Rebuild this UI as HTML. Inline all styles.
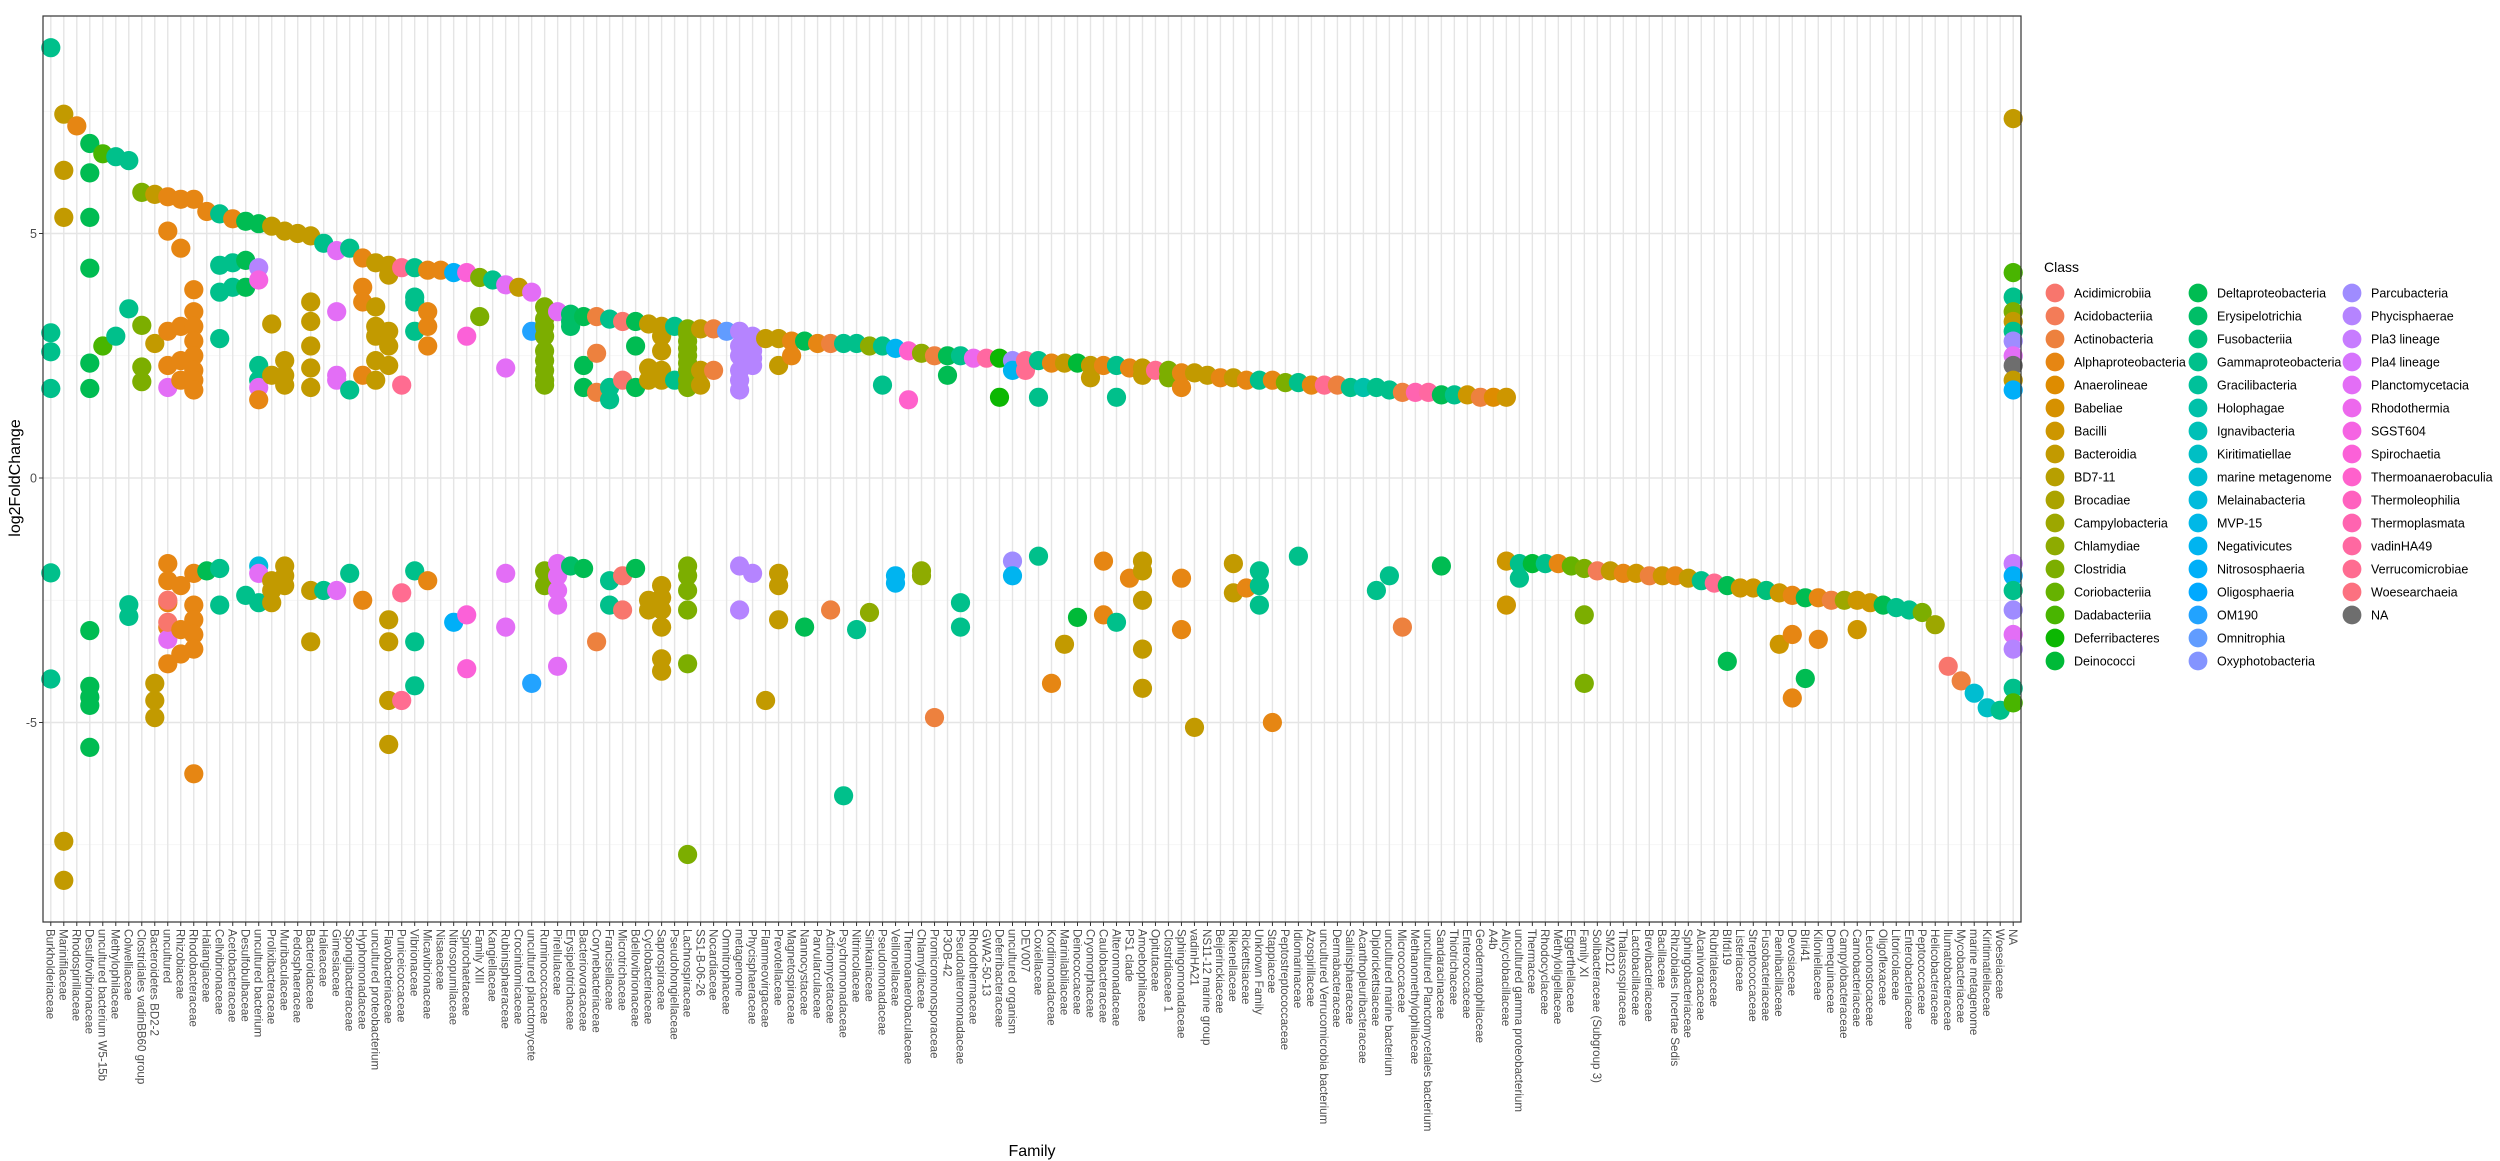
<!DOCTYPE html>
<html><head><meta charset="utf-8">
<style>
html,body{margin:0;padding:0;background:#fff;}
svg{display:block;font-family:"Liberation Sans",Arial,sans-serif;}
</style></head>
<body>
<svg id="chart" width="2500" height="1161" viewBox="0 0 2500 1161" xmlns="http://www.w3.org/2000/svg">
<rect width="2500" height="1161" fill="#fff"/>
<g id="grid"></g>
<g id="points"></g>
<rect x="43" y="16" width="1978" height="906" fill="none" stroke="#333" stroke-width="1.2"/>
<g id="yaxis"></g>
<g id="xaxis"></g>
<text transform="translate(20,478) rotate(-90)" text-anchor="middle" font-size="16" fill="#000">log2FoldChange</text>
<text x="1032" y="1156" text-anchor="middle" font-size="16" fill="#000">Family</text>
<g id="legend"></g>
</svg>
<script>
const families = ["Burkholderiaceae","Marinifilaceae","Rhodospirillaceae","Desulfovibrionaceae","uncultured bacterium W5-15b","Methylophilaceae","Colwelliaceae","Clostridiales vadinBB60 group","Bacteroidetes BD2-2","uncultured","Rhizobiaceae","Rhodobacteraceae","Haliangiaceae","Cellvibrionaceae","Acetobacteraceae","Desulfobulbaceae","uncultured bacterium","Prolixibacteraceae","Muribaculaceae","Pedosphaeraceae","Bacteroidaceae","Halieaceae","Gimesiaceae","Spongiibacteraceae","Hyphomonadaceae","uncultured proteobacterium","Flavobacteriaceae","Puniceicoccaceae","Vibrionaceae","Micavibrionaceae","Nisaeaceae","Nitrosopumilaceae","Spirochaetaceae","Family XIII","Kangiellaceae","Rubinisphaeraceae","Crocinitomicaceae","uncultured planctomycete","Ruminococcaceae","Pirellulaceae","Erysipelotrichaceae","Bacteriovoracaceae","Corynebacteriaceae","Francisellaceae","Microtrichaceae","Bdellovibrionaceae","Cyclobacteriaceae","Saprospiraceae","Pseudohongiellaceae","Lachnospiraceae","SS1-B-06-26","Nocardiaceae","Omnitrophaceae","metagenome","Phycisphaeraceae","Flammeovirgaceae","Prevotellaceae","Magnetospiraceae","Nannocystaceae","Parvularculaceae","Actinomycetaceae","Psychromonadaceae","Nitrincolaceae","Simkaniaceae","Pseudomonadaceae","Veillonellaceae","Thermoanaerobaculaceae","Chlamydiaceae","Promicromonosporaceae","P3OB-42","Pseudoalteromonadaceae","Rhodothermaceae","GWA2-50-13","Deferribacteraceae","uncultured organism","DEV007","Coxiellaceae","Kordiimonadaceae","Marinilabiliaceae","Deinococcaceae","Cryomorphaceae","Caulobacteraceae","Alteromonadaceae","PS1 clade","Amoebophilaceae","Opitutaceae","Clostridiaceae 1","Sphingomonadaceae","vadinHA21","NS11-12 marine group","Beijerinckiaceae","Rikenellaceae","Rickettsiaceae","Unknown Family","Stappiaceae","Peptostreptococcaceae","Idiomarinaceae","Azospirillaceae","uncultured Verrucomicrobia bacterium","Dermabacteraceae","Salinisphaeraceae","Acanthopleuribacteraceae","Diplorickettsiaceae","uncultured marine bacterium","Micrococcaceae","Methanomethylophilaceae","uncultured Planctomycetales bacterium","Sandaracinaceae","Thiotrichaceae","Enterococcaceae","Geodermatophilaceae","A4b","Alicyclobacillaceae","uncultured gamma proteobacterium","Thermaceae","Rhodocyclaceae","Methyloligellaceae","Eggerthellaceae","Family XI","Solibacteraceae (Subgroup 3)","SM2D12","Thalassospiraceae","Lactobacillaceae","Brevibacteriaceae","Bacillaceae","Rhizobiales Incertae Sedis","Sphingobacteriaceae","Alcanivoracaceae","Rubritaleaceae","BIfdi19","Listeriaceae","Streptococcaceae","Fusobacteriaceae","Paenibacillaceae","Devosiaceae","BIrii41","Kiloniellaceae","Demequinaceae","Campylobacteraceae","Carnobacteriaceae","Leuconostocaceae","Oligoflexaceae","Litoricolaceae","Enterobacteriaceae","Peptococcaceae","Helicobacteraceae","Ilumatobacteraceae","Mycobacteriaceae","marine metagenome","Kiritimatiellaceae","Woeseiaceae","NA"];

const classes = ["Acidimicrobiia","Acidobacteriia","Actinobacteria","Alphaproteobacteria","Anaerolineae","Babeliae","Bacilli","Bacteroidia","BD7-11","Brocadiae","Campylobacteria","Chlamydiae","Clostridia","Coriobacteriia","Dadabacteriia","Deferribacteres","Deinococci","Deltaproteobacteria","Erysipelotrichia","Fusobacteriia","Gammaproteobacteria","Gracilibacteria","Holophagae","Ignavibacteria","Kiritimatiellae","marine metagenome","Melainabacteria","MVP-15","Negativicutes","Nitrososphaeria","Oligosphaeria","OM190","Omnitrophia","Oxyphotobacteria","Parcubacteria","Phycisphaerae","Pla3 lineage","Pla4 lineage","Planctomycetacia","Rhodothermia","SGST604","Spirochaetia","Thermoanaerobaculia","Thermoleophilia","Thermoplasmata","vadinHA49","Verrucomicrobiae","Woesearchaeia","NA"];

// log2FoldChange values per family (same order as families)
const famValues = [
[8.8,2.97,2.58,1.83,-1.94,-4.11],
[7.44,6.29,5.33,-7.43,-8.23],
[7.2],
[6.84,6.24,5.33,4.29,2.35,1.83,-3.12,-4.26,-4.48,-4.65,-5.51],
[6.63,2.7],
[6.57,2.9],
[6.49,3.46,-2.59,-2.83],
[5.84,3.12,2.27,1.97],
[5.8,2.75,-4.2,-4.55,-4.9],
[5.75,5.05,3.0,2.3,-1.75,-2.1,-2.55,-3.05,-3.8,1.85,-3.3,-2.5,-2.95],
[5.7,4.7,3.1,2.4,2.0,-2.2,-3.1,-3.6],
[5.7,3.85,3.4,3.1,2.8,2.5,2.2,2.0,1.8,-1.95,-2.6,-2.9,-3.2,-3.5,-6.05],
[5.45,-1.9],
[5.4,4.35,3.8,2.85,-1.85,-2.6],
[5.3,4.4,3.9],
[5.25,4.45,3.9,-2.4],
[5.2,4.3,4.05,2.3,2.0,1.85,1.6,-1.8,-1.95,-2.55],
[5.15,3.15,2.1,-2.1,-2.3,-2.55],
[5.05,2.4,2.1,1.9,-1.8,-2.0,-2.2],
[5.0],
[4.95,3.6,3.2,2.7,2.25,1.85,-2.3,-3.35],
[4.8,-2.3],
[4.65,3.4,2.1,2.0,-2.3],
[4.7,1.8,-1.95],
[4.5,3.9,3.6,2.1,-2.5],
[4.4,3.5,3.1,2.9,2.4,2.0],
[4.35,4.15,3.0,2.7,2.3,-2.9,-3.35,-4.55,-5.45],
[4.3,1.9,-2.35,-4.55],
[4.3,3.7,3.6,3.0,-1.9,-3.35,-4.25],
[4.25,3.4,3.1,2.7,-2.1],
[4.25],
[4.2,-2.95],
[4.2,2.9,-2.8,-3.9],
[4.1,3.3],
[4.05],
[3.95,2.25,-1.95,-3.05],
[3.9],
[3.8,3.0,-4.2],
[3.5,3.25,3.1,2.9,2.6,2.4,2.2,2.0,1.9,-1.9,-2.2],
[3.4,-1.75,-2.0,-2.3,-2.6,-3.85],
[3.35,3.2,3.1,-1.8],
[3.3,2.3,1.85,-1.85],
[3.3,2.55,1.75,-3.35],
[3.25,1.85,1.6,-2.1,-2.6],
[3.2,2.0,-2.0,-2.7],
[3.2,2.7,1.85,-1.85],
[3.15,2.25,2.0,-2.5,-2.7],
[3.1,2.9,2.6,2.2,2.0,-2.2,-2.45,-2.7,-3.05,-3.7,-3.95],
[3.1,2.0],
[3.05,2.95,2.8,2.65,2.5,2.35,2.2,2.0,1.85,-1.8,-2.0,-2.3,-2.7,-3.8,-7.7],
[3.05,2.2,1.9],
[3.05,2.2],
[3.0],
[3.0,2.7,2.5,2.2,2.0,1.8,-1.8,-2.7],
[2.9,2.6,2.45,2.3,-1.95],
[2.85,-4.55],
[2.85,2.3,-1.95,-2.2,-2.9],
[2.8,2.5],
[2.8,-3.05],
[2.75],
[2.75,-2.7],
[2.75,-6.5],
[2.75,-3.1],
[2.7,-2.75],
[2.7,1.9],
[2.65,-2.0,-2.15],
[2.6,1.6],
[2.55,-1.9,-2.0],
[2.5,-4.9],
[2.5,2.1],
[2.5,-2.55,-3.05],
[2.45],
[2.45],
[2.45,1.65],
[2.4,2.2,-1.7,-2.0],
[2.4,2.2],
[2.4,1.65,-1.6],
[2.35,-4.2],
[2.35,-3.4],
[2.35,-2.85],
[2.3,2.05],
[2.3,-1.7,-2.8],
[2.3,1.65,-2.95],
[2.25,-2.05],
[2.25,2.1,-1.7,-1.9,-2.5,-3.5,-4.3],
[2.2],
[2.2,2.05],
[2.15,1.85,-2.05,-3.1],
[2.15,-5.1],
[2.1],
[2.05],
[2.05,-1.75,-2.35],
[2.0,-2.25],
[2.0,-1.9,-2.2,-2.6],
[2.0,-5.0],
[1.95],
[1.95,-1.6],
[1.9],
[1.9],
[1.9],
[1.85],
[1.85],
[1.85,-2.3],
[1.8,-2.0],
[1.75,-3.05],
[1.75],
[1.75],
[1.7,-1.8],
[1.7],
[1.7],
[1.65],
[1.65],
[1.65,-1.7,-2.6],
[-1.75,-2.05],
[-1.75],
[-1.75],
[-1.75],
[-1.8],
[-1.85,-2.8,-4.2],
[-1.9],
[-1.9],
[-1.95],
[-1.95],
[-2.0],
[-2.0],
[-2.0],
[-2.05],
[-2.1],
[-2.15],
[-2.2,-3.75],
[-2.25],
[-2.25],
[-2.3],
[-2.35,-3.4],
[-2.4,-3.2,-4.5],
[-2.45,-4.1],
[-2.45,-3.3],
[-2.5],
[-2.5],
[-2.5,-3.1],
[-2.55],
[-2.6],
[-2.65],
[-2.7],
[-2.75],
[-3.0],
[-3.85],
[-4.15],
[-4.4],
[-4.7],
[-4.75],
[7.35,4.2,3.7,3.4,3.2,3.0,2.8,2.5,2.3,2.0,1.8,-1.75,-2.0,-2.3,-2.7,-3.2,-3.5,-4.3,-4.6]
];

// class index per point (same shape as famValues)
const famClasses = [
[20,20,20,20,20,20],
[7,7,7,7,7],
[3],
[17,17,17,17,17,17,17,17,17,17,17],
[14,14],
[20,20],
[20,20,20,20],
[12,12,12,12],
[7,7,7,7,7],
[3,3,3,3,3,3,3,3,3,38,38,0,0],
[3,3,3,3,3,3,3,3],
[3,3,3,3,3,3,3,3,3,3,3,3,3,3,3],
[3,17],
[20,20,20,20,20,20],
[3,20,20],
[17,17,17,20],
[17,35,40,20,20,38,3,26,38,20],
[7,7,7,7,7,7],
[7,7,7,7,7,7,7],
[7],
[7,7,7,7,7,7,7,7],
[20,20],
[38,38,38,38,38],
[20,20,20],
[3,3,3,3,3],
[7,7,7,7,7,7],
[7,7,7,7,7,7,7,7,7],
[46,46,46,46],
[20,20,20,20,20,20,20],
[3,3,3,3,3],
[3],
[29,29],
[41,41,41,41],
[12,12],
[20],
[38,38,38,38],
[7],
[38,31,31],
[12,12,12,12,12,12,12,12,12,12,12],
[38,38,38,38,38,38],
[18,18,18,18],
[17,17,17,17],
[2,2,2,2],
[20,20,20,20,20],
[0,0,0,0],
[17,17,17,17],
[7,7,7,7,7],
[7,7,7,7,7,7,7,7,7,7,7],
[20,20],
[12,12,12,12,12,12,12,12,12,12,12,12,12,12,12],
[7,7,7],
[2,2],
[32],
[35,35,35,35,35,35,35,35],
[35,35,35,35,35],
[7,7],
[7,7,7,7,7],
[3,3],
[17,17],
[3],
[2,2],
[20,20],
[20,20],
[11,11],
[20,20],
[28,28,28],
[42,42],
[11,11,11],
[2,2],
[17,17],
[20,20,20],
[39],
[45],
[15,15],
[34,28,34,28],
[46,46],
[20,20,20],
[3,3],
[7,7],
[16,16],
[7,7],
[3,3,3],
[20,20,20],
[3,3],
[7,7,7,7,7,7,7],
[46],
[12,12],
[3,3,3,3],
[7,7],
[7],
[3],
[7,7,7],
[3,3],
[20,20,20,20],
[3,3],
[12],
[20,20],
[3],
[46],
[2],
[20],
[22],
[20,20],
[20,20],
[2,2],
[44],
[45],
[17,17],
[20],
[6],
[2],
[4],
[6,6,6],
[20,20],
[16],
[20],
[3],
[13],
[12,12,12],
[1],
[7],
[3],
[6],
[2],
[6],
[3],
[7],
[20],
[46],
[17,17],
[6],
[6],
[19],
[6,6],
[3,3,3],
[17,17],
[3,3],
[2],
[10],
[6,6],
[6],
[17],
[20],
[20],
[12],
[10],
[0],
[2],
[25],
[24],
[20],
[7,14,20,12,7,20,34,38,48,7,29,36,29,20,34,38,35,20,14]
];

const yTicks = [-5, 0, 5];
const yTickLabels = ["-5", "0", "5"];
const yMinor = [-7.5, -2.5, 2.5, 7.5];

// ---------- scales ----------
const PL = 43, PR = 2021, PT = 16, PB = 922;
const step = (PR - PL) / (families.length - 1 + 1.2);
function xPos(i){ return PL + (0.6 + i) * step; }
const yZero = 478, yUnit = 48.9;
function yPos(v){ return yZero - v * yUnit; }

// ---------- colours (ggplot hue_pal) ----------
function hcl2hex(h, c, l){
  const hr = h * Math.PI / 180;
  const U = c * Math.cos(hr), V = c * Math.sin(hr);
  const Xn = 95.047, Yn = 100, Zn = 108.883;
  const Y = Yn * (l > 8 ? Math.pow((l + 16) / 116, 3) : l / 903.3);
  const t = Xn + 15 * Yn + 3 * Zn;
  const un = 4 * Xn / t, vn = 9 * Yn / t;
  const u = U / (13 * l) + un, v = V / (13 * l) + vn;
  const X = 9 * Y * u / (4 * v);
  const Z = -X / 3 - 5 * Y + 3 * Y / v;
  const x = X / 100, y = Y / 100, z = Z / 100;
  let r = 3.240479 * x - 1.53715 * y - 0.498535 * z;
  let g = -0.969256 * x + 1.875992 * y + 0.041556 * z;
  let b = 0.055648 * x - 0.204043 * y + 1.057311 * z;
  function gam(u){ u = u > 0.00304 ? 1.055 * Math.pow(u, 1 / 2.4) - 0.055 : 12.92 * u; return Math.round(Math.max(0, Math.min(1, u)) * 255); }
  return "#" + [gam(r), gam(g), gam(b)].map(n => n.toString(16).padStart(2, "0")).join("");
}
const nHue = classes.length - 1;
function classColor(k){
  if (classes[k] === "NA") return "#6E6E6E";
  const h = 15 + 360 * k / nHue;
  return hcl2hex(h % 360, 100, 65);
}

const NS = "http://www.w3.org/2000/svg";
function mk(tag, attrs, parent){
  const e = document.createElementNS(NS, tag);
  for (const k in attrs) e.setAttribute(k, attrs[k]);
  parent.appendChild(e);
  return e;
}

// ---------- grid ----------
const grid = document.getElementById("grid");
yMinor.forEach(v => {
  const l = mk("line", {x1: PL, x2: PR, y1: yPos(v), y2: yPos(v), stroke: "#F2F2F2", "stroke-width": 0.8}, grid);
  
  
});
yTicks.forEach(v => {
  const l = mk("line", {x1: PL, x2: PR, y1: yPos(v), y2: yPos(v), stroke: "#E5E5E5", "stroke-width": 1.4}, grid);
  
  
});
families.forEach((f, i) => {
  const l = mk("line", {x1: xPos(i), x2: xPos(i), y1: PT, y2: PB, stroke: "#E5E5E5", "stroke-width": 1.4}, grid);
  
  
});

// ---------- points ----------
const pg = document.getElementById("points");
famValues.forEach((vals, i) => {
  vals.forEach((v, j) => {
    const k = famClasses[i][j];
    const c = mk("circle", {cx: xPos(i).toFixed(1), cy: yPos(v).toFixed(1), r: 9.6, fill: classColor(k)}, pg);
    
    
  });
});

// ---------- y axis ----------
const ya = document.getElementById("yaxis");
yTicks.forEach((v, i) => {
  const t = mk("line", {x1: PL - 4, x2: PL, y1: yPos(v), y2: yPos(v), stroke: "#333", "stroke-width": 1}, ya);
  
  
  const tx = mk("text", {x: PL - 6, y: yPos(v) + 4.5, "text-anchor": "end", "font-size": 12.5, fill: "#4D4D4D"}, ya);
  tx.textContent = yTickLabels[i];
  
  
});

// ---------- x axis ----------
const xa = document.getElementById("xaxis");
families.forEach((f, i) => {
  const x = xPos(i);
  const t = mk("line", {x1: x, x2: x, y1: PB, y2: PB + 4, stroke: "#333", "stroke-width": 1}, xa);
  
  
  const tx = mk("text", {transform: "translate(" + (x - 4.2).toFixed(1) + "," + (PB + 7) + ") rotate(90)", "font-size": 11.6, fill: "#4D4D4D"}, xa);
  tx.textContent = f;
  
  
});

// ---------- legend ----------
const lg = document.getElementById("legend");
const lt = mk("text", {x: 2044, y: 272, "font-size": 14, fill: "#000"}, lg);
lt.textContent = "Class";


const colX = [2055, 2198, 2352];
classes.forEach((c, k) => {
  const col = Math.floor(k / 17), row = k % 17;
  const cy = 293 + row * 23;
  const g = mk("g", {}, lg);
  
  
  mk("circle", {cx: colX[col], cy: cy, r: 9.4, fill: classColor(k)}, g);
  const tx = mk("text", {x: colX[col] + 19, y: cy + 4.5, "font-size": 12.5, fill: "#000"}, g);
  tx.textContent = c;
});
</script>
</body></html>
